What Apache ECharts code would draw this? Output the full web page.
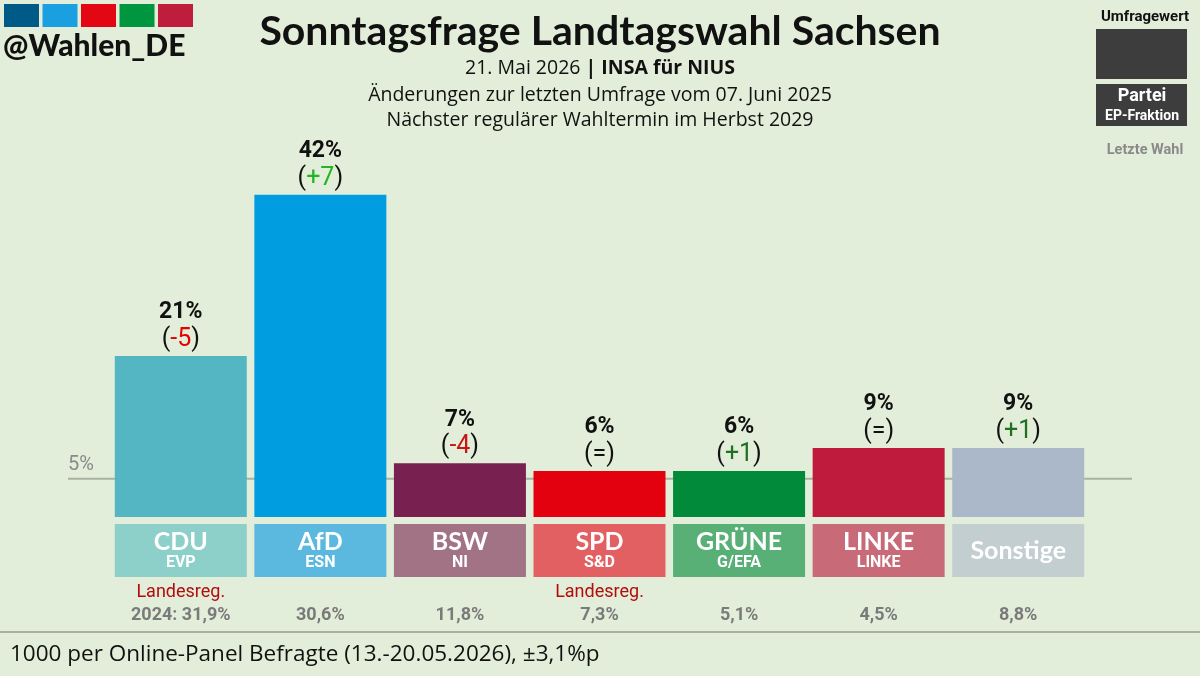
<!DOCTYPE html>
<html>
<head>
<meta charset="utf-8">
<script src="https://cdn.jsdelivr.net/npm/echarts@6/dist/echarts.min.js"></script>
<style>
  html, body { margin: 0; padding: 0; background: #e2eed9; }
  #chart { width: 1200px; height: 676px; }
</style>
</head>
<body>
<div id="chart"></div>
<script>
// poll data
const parties = ['CDU', 'AfD', 'BSW', 'SPD', 'GRÜNE', 'LINKE', 'Sonstige'];
const fractions = ['EVP', 'ESN', 'NI', 'S&D', 'G/EFA', 'LINKE', ''];
const pollValues = [21, 42, 7, 6, 6, 9, 9];
const changes = ['-5', '+7', '-4', '=', '+1', '=', '+1'];
const lastResult = ['2024: 31,9%', '30,6%', '11,8%', '7,3%', '5,1%', '4,5%', '8,8%'];
const government = [true, false, false, true, false, false, false];

const barColors = ['#53b6c2', '#009ee0', '#782151', '#e3000f', '#008a3a', '#be1b3d', '#aab8ca'];
const boxColors = ['#8dcfc9', '#5bb9df', '#a27285', '#e36062', '#59b077', '#c96a78', '#c3ced0'];

function changeColor(c) {
  if (c === '=') return '#111';
  const n = parseInt(c, 10);
  if (n > 0) return n >= 3 ? '#22b422' : '#1f701f';
  return n <= -5 ? '#e80000' : '#c81616';
}

const changeRich = {};
changes.forEach((c, i) => {
  changeRich['c' + i] = { color: changeColor(c), fontSize: 25, fontFamily: 'Roboto', lineHeight: 27 };
});

const chart = echarts.init(document.getElementById('chart'));

const option = {
  backgroundColor: '#e2eed9',
  animation: false,
  grid: [
    { left: 111, right: 112, top: 133.5, bottom: 159 },
    { left: 111, right: 112, top: 524, height: 53 }
  ],
  xAxis: [
    {
      type: 'category', data: parties, gridIndex: 0,
      axisLine: { show: false }, axisTick: { show: false }, axisLabel: { show: false }
    },
    {
      type: 'category', data: parties, gridIndex: 1,
      axisLine: { show: false }, axisTick: { show: false },
      axisLabel: {
        margin: 4,
        formatter: (v, i) => '{g|' + (government[i] ? 'Landesreg.' : ' ') + '}\n{l|' + lastResult[i] + '}',
        rich: {
          g: { color: '#b30c0c', fontSize: 18, fontFamily: 'Roboto', lineHeight: 23 },
          l: { color: '#7a7a7a', fontSize: 18, fontWeight: 'bold', fontFamily: 'Roboto', lineHeight: 23 }
        }
      }
    }
  ],
  yAxis: [
    { type: 'value', gridIndex: 0, min: 0, max: 50, show: false },
    { type: 'value', gridIndex: 1, min: 0, max: 1, show: false }
  ],
  series: [
    {
      type: 'bar', xAxisIndex: 0, yAxisIndex: 0, barWidth: 132, z: 2,
      data: pollValues,
      itemStyle: { color: p => barColors[p.dataIndex] },
      label: {
        show: true, position: 'top', distance: 3,
        formatter: p => '{v|' + pollValues[p.dataIndex] + '%}\n{p|(}{c' + p.dataIndex + '|' + changes[p.dataIndex] + '}{p|)}',
        rich: Object.assign({
          v: { color: '#111', fontSize: 23, fontWeight: 'bold', fontFamily: 'Roboto', lineHeight: 27 },
          p: { color: '#111', fontSize: 25, fontFamily: 'Roboto', lineHeight: 27 }
        }, changeRich)
      }
    },
    {
      type: 'bar', xAxisIndex: 1, yAxisIndex: 1, barWidth: 132,
      data: parties.map(() => 1),
      itemStyle: { color: p => boxColors[p.dataIndex] },
      label: {
        show: true, position: 'inside',
        formatter: p => fractions[p.dataIndex]
          ? '{n|' + parties[p.dataIndex] + '}\n{f|' + fractions[p.dataIndex] + '}'
          : '{n|' + parties[p.dataIndex] + '}',
        rich: {
          n: { color: '#fff', fontSize: 25, fontWeight: 'bold', fontFamily: 'Lato', lineHeight: 25 },
          f: { color: '#fff', fontSize: 16, fontWeight: 'bold', fontFamily: 'Roboto', lineHeight: 17 }
        }
      }
    }
  ]
};

chart.setOption(option);

const y5 = chart.convertToPixel({ yAxisIndex: 0 }, 5);
const logoColors = ['#005a87', '#1aa0e0', '#e30613', '#009640', '#be1e3c'];

function txt(id, text, x, y, opts) {
  return {
    type: 'text', id: id, z: 10,
    style: Object.assign({
      text: text, x: x, y: y,
      align: 'center', textAlign: 'center',
      verticalAlign: 'middle', textVerticalAlign: 'middle',
      fill: '#111', fontFamily: 'Noto Sans', fontSize: 18
    }, opts || {})
  };
}

const graphics = [
  // logo squares
  ...logoColors.map((c, i) => ({
    type: 'rect', id: 'logo' + i, z: 10,
    shape: { x: 4 + i * 38.5, y: 4, width: 35, height: 23 },
    style: { fill: c }
  })),
  txt('logoText', '@Wahlen_DE', 3, 46, { align: 'left', textAlign: 'left', fontFamily: 'Lato', fontWeight: 900, fontSize: 30, fill: '#111' }),
  // titles
  txt('title', 'Sonntagsfrage Landtagswahl Sachsen', 600, 32, { fontFamily: 'Lato', fontWeight: 'bold', fontSize: 41, fill: '#111' }),
  {
    type: 'text', id: 'sub1', z: 10,
    style: {
      text: '{a|21. Mai 2026 }{b|| INSA für NIUS}', x: 600, y: 68,
      align: 'center', textAlign: 'center', verticalAlign: 'middle', textVerticalAlign: 'middle',
      rich: {
        a: { fontFamily: 'Open Sans', fontSize: 19.5, fill: '#111', color: '#111' },
        b: { fontFamily: 'Open Sans', fontSize: 19.5, fontWeight: 'bold', fill: '#111', color: '#111' }
      }
    }
  },
  txt('sub2', 'Änderungen zur letzten Umfrage vom 07. Juni 2025', 600, 95, { fontFamily: 'Open Sans', fontSize: 19.5 }),
  txt('sub3', 'Nächster regulärer Wahltermin im Herbst 2029', 600, 120, { fontFamily: 'Open Sans', fontSize: 19.5 }),
  // legend top right
  txt('lgTitle', 'Umfragewert', 1145, 17, { fontFamily: 'Roboto', fontWeight: 'bold', fontSize: 15 }),
  { type: 'rect', id: 'lgBox1', z: 10, shape: { x: 1096, y: 29, width: 91, height: 50 }, style: { fill: '#3d3d3d' } },
  { type: 'rect', id: 'lgBox2', z: 10, shape: { x: 1096, y: 84, width: 91, height: 42 }, style: { fill: '#3d3d3d' } },
  txt('lgParty', 'Partei', 1142, 96, { fontFamily: 'Roboto', fontWeight: 'bold', fontSize: 18, fill: '#fff' }),
  txt('lgFrac', 'EP-Fraktion', 1142, 116, { fontFamily: 'Roboto', fontWeight: 'bold', fontSize: 14, fill: '#fff' }),
  txt('lgLast', 'Letzte Wahl', 1145, 150, { fontFamily: 'Roboto', fontWeight: 'bold', fontSize: 14.5, fill: '#8a8a8a' }),
  // 5% threshold
  {
    type: 'line', id: 'line5', z: 0,
    shape: { x1: 68, y1: y5, x2: 1132, y2: y5 },
    style: { stroke: '#a8b2a2', lineWidth: 2 }
  },
  txt('lbl5', '5%', 68, y5 - 14, { align: 'left', textAlign: 'left', fontFamily: 'Roboto', fontSize: 20, fill: '#8a8a8a' }),
  // footer
  {
    type: 'line', id: 'footLine', z: 10,
    shape: { x1: 0, y1: 632, x2: 1200, y2: 632 },
    style: { stroke: '#a9b0a4', lineWidth: 2 }
  },
  txt('foot', '1000 per Online-Panel Befragte (13.-20.05.2026), ±3,1%p', 10, 655, { align: 'left', textAlign: 'left', fontFamily: 'Open Sans', fontSize: 22.5 })
];

chart.setOption({ graphic: graphics });
</script>
</body>
</html>
